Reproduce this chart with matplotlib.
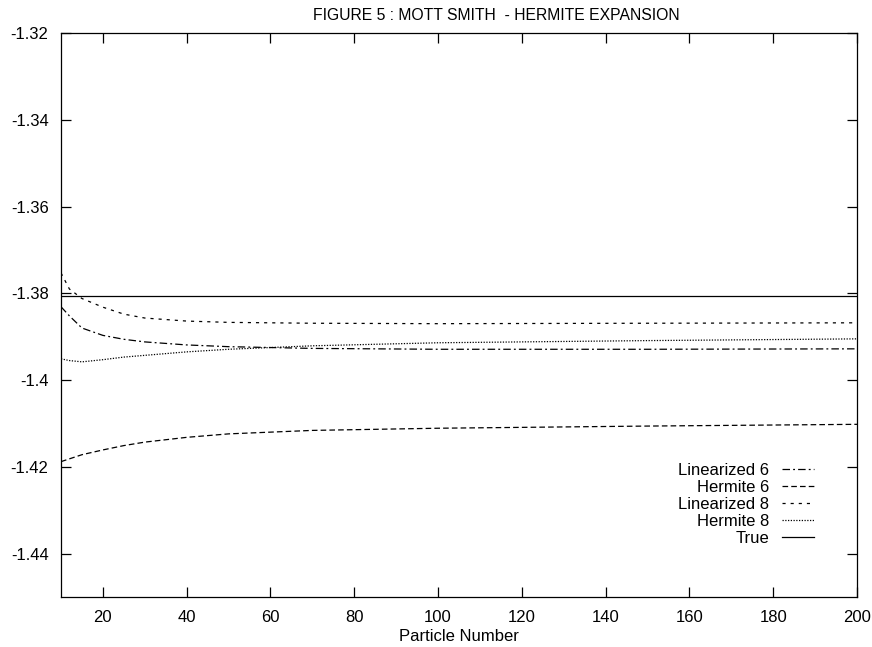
"""
Mott Smith - Hermite expansion, convergence with particle number
"""
import numpy as np
import matplotlib
matplotlib.use("Agg")
import matplotlib.pyplot as plt
from matplotlib.ticker import FuncFormatter

plt.rcParams['font.family'] = ['Liberation Sans', 'DejaVu Sans']
plt.rcParams['font.size'] = 12

# values
x_lin6 = [10, 12, 15, 20, 25, 30, 40, 50, 70, 100, 150, 200]
y_lin6 = [-1.3831, -1.3852, -1.3880, -1.3897, -1.3906, -1.3912, -1.3919,
          -1.3923, -1.3927, -1.3929, -1.3929, -1.3928]

x_her6 = [10, 15, 20, 25, 30, 40, 50, 70, 100, 150, 200]
y_her6 = [-1.4188, -1.4172, -1.4161, -1.4151, -1.4143, -1.4132, -1.4124,
          -1.4116, -1.4111, -1.4106, -1.4102]

x_lin8 = [10, 12, 15, 20, 25, 30, 40, 50, 70, 100, 150, 200]
y_lin8 = [-1.3753, -1.3790, -1.3812, -1.3832, -1.3848, -1.3857, -1.3864,
          -1.3867, -1.3869, -1.3870, -1.3869, -1.3868]

x_her8 = [10, 12, 15, 20, 25, 30, 40, 50, 70, 100, 150, 200]
y_her8 = [-1.3951, -1.3955, -1.3958, -1.3953, -1.3947, -1.3943, -1.3935,
          -1.3929, -1.3921, -1.3914, -1.3909, -1.3905]

x_true = [10, 200]
y_true = [-1.3807, -1.3807]

labels = ["Linearized 6", "Hermite 6", "Linearized 8", "Hermite 8", "True"]
styles = [(0, (6, 2.5, 1.5, 2.5)), (0, (4.5, 2.5)), (0, (2.5, 4)),
          (0, (1, 1.2)), '-']

fig = plt.figure(figsize=(8.72, 6.47), dpi=100)
ax = fig.add_axes([61/872, 50/647, 796/872, 564/647])

series = [(x_lin6, y_lin6), (x_her6, y_her6), (x_lin8, y_lin8),
          (x_her8, y_her8), (x_true, y_true)]
for (x, y), label, ls in zip(series, labels, styles):
    ax.plot(x, y, color='black', linestyle=ls, lw=0.9, label=label)

ax.set_xlim(10, 200)
ax.set_ylim(-1.45, -1.32)
ax.set_xticks(np.arange(20, 201, 20))
ax.set_yticks([-1.44, -1.42, -1.40, -1.38, -1.36, -1.34, -1.32])
ax.yaxis.set_major_formatter(FuncFormatter(lambda v, p: '%g' % round(v, 4)))
ax.tick_params(direction='in', length=7, width=0.9, top=True, right=True,
               labelsize=12, pad=9)
for s in ax.spines.values():
    s.set_linewidth(0.9)

ax.set_xlabel('Particle Number', fontsize=12, labelpad=3)
fig.text(496/872, 1 - 15/647, 'FIGURE 5 : MOTT SMITH  - HERMITE EXPANSION',
         ha='center', va='center', fontsize=11.3)

leg = ax.legend(loc='lower right', bbox_to_anchor=(822/872, (647-554)/647),
                bbox_transform=fig.transFigure, markerfirst=False,
                frameon=False, handlelength=1.9, handletextpad=0.75,
                labelspacing=0.12, borderpad=0, fontsize=12)

fig.savefig('out.png', dpi=100)
